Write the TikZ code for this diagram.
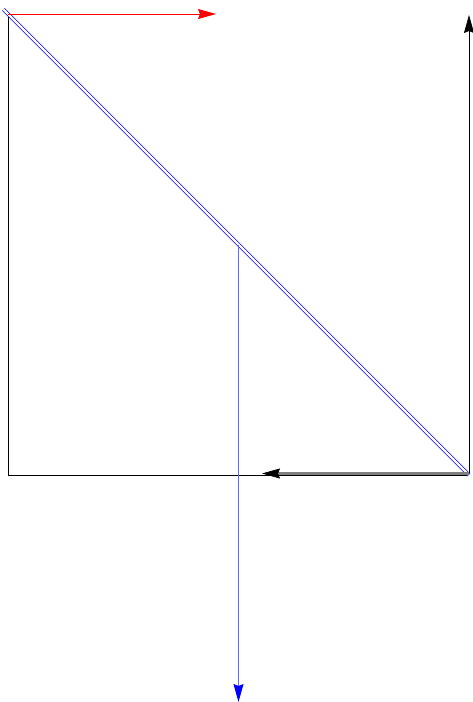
\documentclass[tikz,border=0pt]{standalone}
\usetikzlibrary{arrows.meta,calc}
\tikzset{>={Stealth[length=18pt,width=10pt,inset=2pt]}, frm/.style={draw=black, line width=0.7pt}, splitter/.style={draw=blue, double=white, double distance=2.2pt, line width=0.8pt}}

\begin{document}
\begin{tikzpicture}[x=1pt, y=-1pt]
  \useasboundingbox (0,0) rectangle (472,702);
  % corners of the frame
  \coordinate (tl) at (8,14);
  \coordinate (bl) at (8,475);
  \coordinate (br) at (469,475);
  \coordinate (tr) at (469,15);
  \coordinate (split) at (238.5,244.5);
  \coordinate (out) at (238.5,702);
  \coordinate (red) at (216,14);
  \coordinate (grayend) at (262,473.5);
  % frame
  \draw[frm] (tl) -- (bl) -- (br);
  \draw[frm, ->] (br) -- (tr);
  % beam splitter
  \draw[splitter] ($(tl)!-0.01!(br)$) -- (br);
  % beams
  \draw[red, line width=0.8pt, ->] (tl) -- (red);
  \draw[blue!60, line width=1pt, -{Stealth[length=18pt,width=10pt,inset=2pt,blue]}] (split) -- (out);
  \draw[double=gray, double distance=2.4pt, line width=0.7pt, -{Stealth[length=18pt,width=10pt,inset=2pt,black]}] (469,473.5) -- (grayend);
\end{tikzpicture}
\end{document}
